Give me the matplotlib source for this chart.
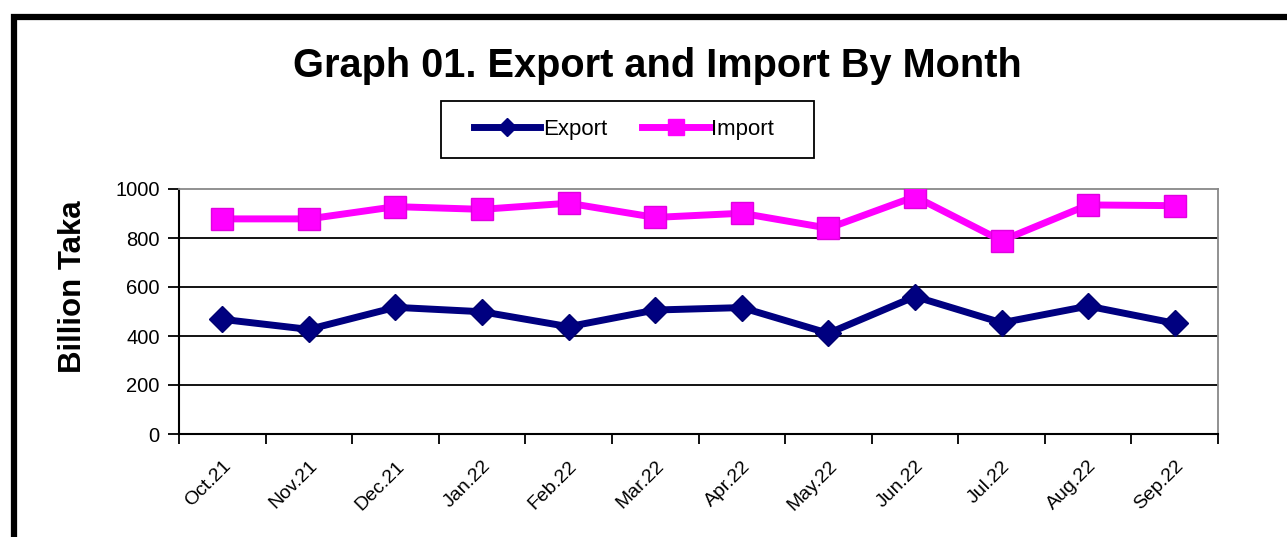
import matplotlib
matplotlib.use("Agg")
import matplotlib.pyplot as plt
from matplotlib.patches import Rectangle
from matplotlib.lines import Line2D
import numpy as np

months = ["Oct.21", "Nov.21", "Dec.21", "Jan.22", "Feb.22", "Mar.22",
          "Apr.22", "May.22", "Jun.22", "Jul.22", "Aug.22", "Sep.22"]
export_vals = [468, 427, 517, 499, 438, 506, 516, 411, 561, 454, 522, 452]
import_vals = [878, 878, 928, 917, 942, 884, 901, 840, 969, 789, 935, 932]
yticks = [0, 200, 400, 600, 800, 1000]

plt.rcParams['font.family'] = ['Liberation Sans', 'DejaVu Sans']

W, H = 1287, 537
fig = plt.figure(figsize=(W / 100, H / 100), dpi=100)

# outer frame (thick black border, extends past right/bottom)
fig.patches.append(Rectangle((14 / W, -0.2), 1.2, 1 - 17 / H + 0.2,
                             transform=fig.transFigure, fill=False,
                             edgecolor='black', linewidth=4.5))

ax = fig.add_axes([179 / W, 1 - 434 / H, (1218 - 179) / W, (434 - 189) / H])

x = np.arange(len(months))
ax.plot(x, import_vals, color='#FF00FF', linewidth=5, marker='s',
        markersize=16, markeredgecolor='#E000E0', markerfacecolor='#FF00FF',
        label='Import', zorder=3)
ax.plot(x, export_vals, color='#000080', linewidth=5, marker='D',
        markersize=13, markeredgecolor='#000070', markerfacecolor='#000080',
        label='Export', zorder=3)

ax.set_xlim(-0.5, len(months) - 0.5)
ax.set_ylim(0, 1000)
ax.set_yticks(yticks)
ax.set_yticklabels([str(v) for v in yticks], fontsize=14.5)
for v in yticks[1:-1]:
    ax.axhline(v, color='black', linewidth=1.3, zorder=1)

ax.set_xticks(np.arange(-0.5, len(months), 1.0), minor=False)
ax.set_xticklabels([])
ax.set_xticks(x, minor=True)
ax.set_xticklabels(months, minor=True, rotation=45, ha='right',
                   rotation_mode='anchor', fontsize=14)
ax.tick_params(axis='x', which='major', direction='out', length=7, width=1.3)
ax.tick_params(axis='x', which='minor', length=0, pad=17)
ax.tick_params(axis='y', direction='out', length=8, width=1.3, pad=6)

for s in ['top', 'right']:
    ax.spines[s].set_color('#888888')
    ax.spines[s].set_linewidth(1.3)
for s in ['left', 'bottom']:
    ax.spines[s].set_color('black')
    ax.spines[s].set_linewidth(1.5)

ax.set_ylabel('Billion Taka', fontsize=22.5, fontweight='bold')
ax.yaxis.set_label_coords(-0.0876, 0.6)

fig.text(657 / W, 1 - 66 / H, 'Graph 01. Export and Import By Month',
         ha='center', va='center', fontsize=28.6, fontweight='bold')

# legend box drawn separately
fig.patches.append(Rectangle((441 / W, 1 - 158 / H), (814 - 441) / W, 57 / H,
                             transform=fig.transFigure, fill=False,
                             edgecolor='black', linewidth=1.3))
handles = [Line2D([0], [0], color='#000080', lw=5, marker='D', markersize=9),
           Line2D([0], [0], color='#FF00FF', lw=5, marker='s', markersize=12)]
leg = fig.legend(handles, ['Export', 'Import'], loc='center',
                 bbox_to_anchor=(624 / W, 1 - 129.5 / H), ncol=2, fontsize=16,
                 frameon=False, handlelength=3.0, handletextpad=0.1,
                 columnspacing=1.6, borderpad=0, borderaxespad=0)

fig.savefig('out.png', dpi=100)
